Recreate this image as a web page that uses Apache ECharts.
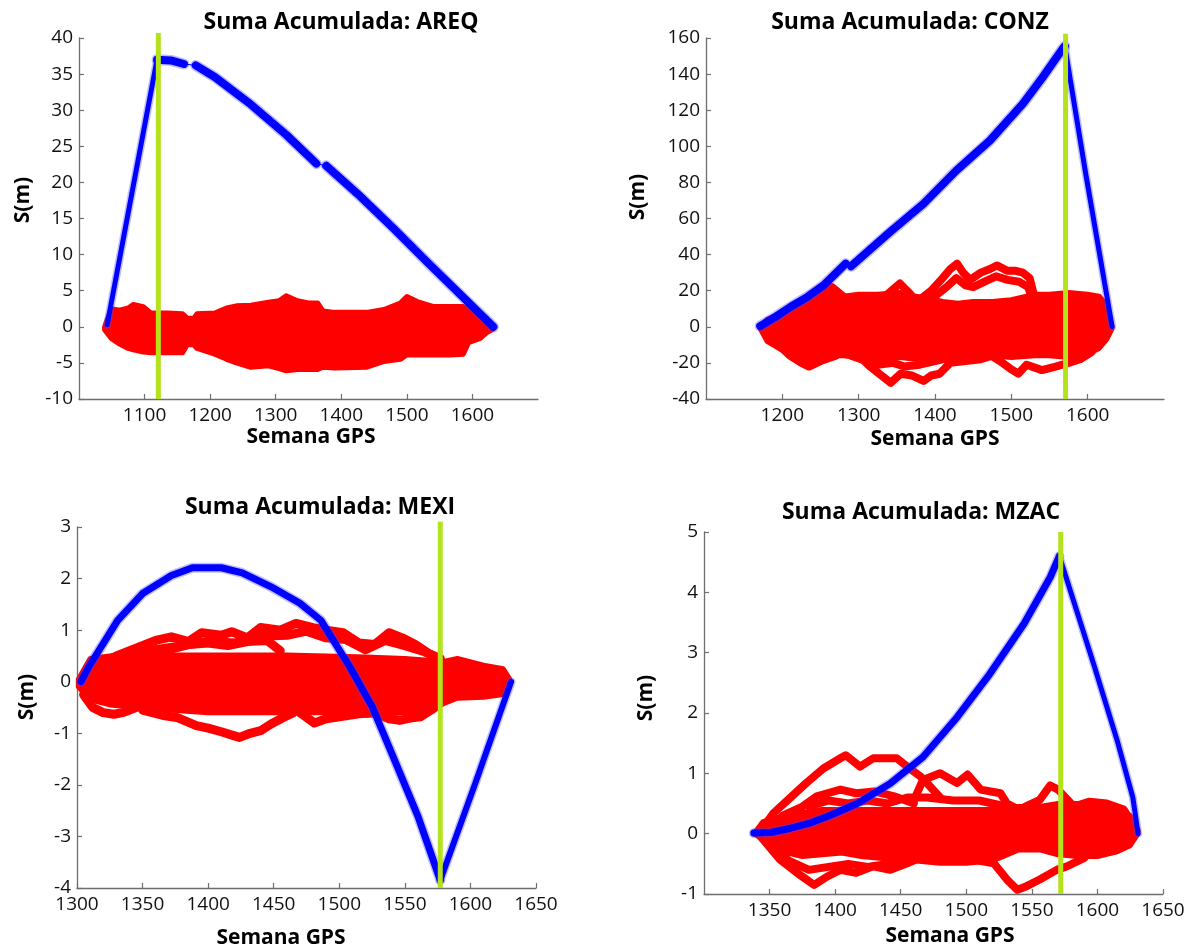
<!DOCTYPE html>
<html>
<head>
<meta charset="utf-8">
<script src="https://cdn.jsdelivr.net/npm/echarts@6/dist/echarts.min.js"></script>
<style>
html,body{margin:0;padding:0;background:#fff}
#chart{width:1196px;height:950px}
</style>
</head>
<body>
<div id="chart"></div>
<script>
// ---- AREQ ----
let areqX  = [1039, 1049, 1062, 1075, 1083, 1098, 1110, 1135, 1158, 1165, 1175, 1180, 1207, 1225, 1240, 1262, 1289, 1305, 1316, 1333, 1350, 1364, 1372, 1390, 1439, 1465, 1490, 1500, 1516, 1541, 1566, 1586, 1594, 1612, 1622, 1632];
let areqHi = [0, 2.5, 2.3, 2.6, 3.1, 2.8, 1.9, 1.9, 1.8, 1.2, 1.2, 1.8, 1.9, 2.6, 2.9, 3.0, 3.4, 3.6, 4.3, 3.6, 3.3, 3.3, 2.2, 2.0, 2.0, 2.4, 3.3, 4.2, 3.5, 2.8, 2.8, 2.8, 2.6, 1.5, 0.8, 0.1];
let areqLo = [-0.4, -1.6, -2.4, -3.0, -3.2, -3.5, -3.6, -3.6, -3.6, -2.5, -2.5, -3.0, -3.8, -4.5, -5.0, -5.6, -5.4, -5.8, -6.1, -5.9, -5.9, -5.9, -5.6, -5.7, -5.6, -4.8, -4.5, -3.9, -3.9, -3.9, -3.9, -3.8, -2.2, -1.6, -0.8, -0.3];
let areqFlankX = [1043, 1119];
let areqFlankY = [0.3, 37.0];
let areqBlueX = [1119, 1140, 1160, 1170, 1178, 1207, 1262, 1316, 1362, 1370, 1377, 1425, 1480, 1534, 1588, 1632];
let areqBlueY = [37.0, 36.9, 36.4, null, 36.2, 34.6, 30.8, 26.6, 22.6, null, 22.3, 18.4, 13.6, 8.7, 3.9, 0.0];
let areqGreen = 1121;

// ---- CONZ ----
let conzX  = [1171, 1180, 1200, 1215, 1233, 1250, 1265, 1280, 1300, 1325, 1354, 1375, 1390, 1410, 1430, 1450, 1475, 1500, 1530, 1550, 1575, 1600, 1615, 1625, 1632];
let conzHi = [0, 4, 8, 11, 15, 17, 18, 17, 18, 18, 19, 17, 16, 14, 13, 14, 14, 15, 18, 18, 19, 18, 17, 12, 0];
let conzLo = [-1, -8, -13, -16, -19, -17, -16, -16, -17, -18, -17, -18, -17, -16, -17, -16, -16, -17, -16, -16, -17, -15, -12, -7, -1];
let conzU1X = [1380, 1395, 1410, 1420, 1429, 1437, 1446, 1460, 1472, 1481, 1495, 1506, 1515, 1524, 1530];
let conzU1Y = [15, 20, 27, 32, 35, 30, 26, 30, 32, 34, 31, 31, 30, 27, 17];
let conzU2X = [1400, 1415, 1428, 1440, 1450, 1465, 1480, 1495, 1510, 1522, 1528];
let conzU2Y = [17, 22, 27, 23, 22, 25, 28, 26, 25, 22, 15];
let conzU3X = [1225, 1245, 1265, 1282];
let conzU3Y = [13, 17, 22, 16];
let conzU4X = [1335, 1354, 1368];
let conzU4Y = [17, 24, 18];
let conzL1X = [1195, 1210, 1225, 1235, 1250, 1270];
let conzL1Y = [-10, -16, -20, -22, -19, -16];
let conzL2X = [1300, 1315, 1330, 1342, 1355, 1370, 1385, 1395, 1406, 1420, 1440, 1460, 1475];
let conzL2Y = [-16, -22, -27, -31, -26, -27, -30, -27, -26, -20, -19, -18, -16];
let conzL3X = [1470, 1485, 1498, 1509, 1520, 1540, 1558, 1575, 1590, 1605];
let conzL3Y = [-15, -19, -23, -26, -21, -24, -22, -20, -18, -14];
let conzL4X = [1290, 1310, 1325, 1345, 1360, 1380, 1400, 1420];
let conzL4Y = [-16, -19, -21, -20, -22, -21, -19, -17];
let conzBlueX = [1171, 1191, 1211, 1233, 1254, 1283, 1286, 1290, 1341, 1385, 1428, 1472, 1515, 1541, 1567, 1570];
let conzBlueY = [0.4, 5.5, 11.1, 16.6, 23.0, 35.0, null, 33.5, 52.5, 68.2, 86.6, 103.2, 123.5, 138.2, 153.9, 155.5];
let conzFlankX = [1570, 1597, 1632];
let conzFlankY = [155.5, 86, 0.2];
let conzGreen = 1571;

// ---- MEXI ----
let mexiX  = [1301, 1310, 1325, 1345, 1370, 1400, 1430, 1460, 1490, 1520, 1550, 1565, 1577, 1590, 1610, 1625, 1630];
let mexiHi = [0.05, 0.45, 0.5, 0.5, 0.52, 0.52, 0.52, 0.52, 0.5, 0.48, 0.45, 0.42, 0.38, 0.45, 0.32, 0.25, 0.05];
let mexiLo = [-0.1, -0.35, -0.45, -0.5, -0.55, -0.6, -0.6, -0.6, -0.6, -0.65, -0.6, -0.55, -0.45, -0.32, -0.3, -0.25, -0.05];
let mexiU1X = [1315, 1330, 1345, 1360, 1372, 1385, 1395, 1410, 1418, 1430, 1440, 1455, 1467, 1480, 1490, 1503, 1515, 1527, 1538, 1548, 1558, 1568, 1577];
let mexiU1Y = [0.3, 0.5, 0.65, 0.8, 0.87, 0.78, 0.95, 0.9, 0.97, 0.85, 1.05, 1.0, 1.13, 1.05, 1.0, 0.95, 0.75, 0.72, 0.95, 0.85, 0.72, 0.55, 0.42];
let mexiU2X = [1325, 1340, 1355, 1370, 1385, 1400, 1415, 1430, 1445, 1455];
let mexiU2Y = [0.45, 0.55, 0.6, 0.62, 0.72, 0.75, 0.7, 0.78, 0.8, 0.6];
let mexiU3X = [1345, 1360, 1380, 1400, 1420, 1440, 1460, 1475, 1490, 1505, 1520, 1535, 1550, 1565, 1577];
let mexiU3Y = [0.5, 0.62, 0.7, 0.78, 0.75, 0.88, 0.9, 0.98, 0.85, 0.82, 0.62, 0.8, 0.7, 0.58, 0.45];
let mexiL1X = [1350, 1365, 1377, 1391, 1400, 1410, 1420, 1424, 1432, 1440, 1448, 1457, 1465];
let mexiL1Y = [-0.55, -0.65, -0.7, -0.85, -0.9, -0.97, -1.05, -1.08, -1.0, -0.95, -0.82, -0.7, -0.6];
let mexiL2X = [1470, 1481, 1490, 1500, 1515, 1527, 1538, 1546, 1555, 1562, 1570, 1577];
let mexiL2Y = [-0.6, -0.8, -0.72, -0.68, -0.62, -0.6, -0.72, -0.75, -0.7, -0.68, -0.55, -0.42];
let mexiL3X = [1305, 1312, 1320, 1328, 1335, 1345];
let mexiL3Y = [-0.25, -0.5, -0.6, -0.63, -0.6, -0.5];
let mexiBlueX = [1303, 1309, 1331, 1350, 1372, 1388, 1410, 1426, 1448, 1470, 1486, 1497, 1508, 1525, 1541, 1560, 1577];
let mexiBlueY = [0.0, 0.29, 1.19, 1.71, 2.06, 2.21, 2.21, 2.11, 1.84, 1.52, 1.19, 0.74, 0.29, -0.48, -1.45, -2.61, -3.85];
let mexiFlankX = [1577, 1604, 1631];
let mexiFlankY = [-3.85, -1.95, 0.0];
let mexiGreen = 1577;

// ---- MZAC ----
let mzacX  = [1338, 1345, 1360, 1375, 1390, 1405, 1420, 1440, 1460, 1480, 1500, 1520, 1540, 1556, 1570, 1585, 1600, 1615, 1625, 1631];
let mzacHi = [0, 0.2, 0.3, 0.35, 0.4, 0.4, 0.4, 0.4, 0.4, 0.4, 0.4, 0.4, 0.45, 0.45, 0.5, 0.5, 0.5, 0.45, 0.3, 0];
let mzacLo = [0, -0.1, -0.3, -0.38, -0.35, -0.32, -0.38, -0.42, -0.45, -0.49, -0.49, -0.45, -0.27, -0.27, -0.35, -0.38, -0.38, -0.3, -0.2, 0];
let mzacU1X = [1345, 1353, 1366, 1378, 1391, 1404, 1408, 1419, 1429, 1447, 1455, 1465, 1470, 1480];
let mzacU1Y = [0.1, 0.34, 0.6, 0.84, 1.08, 1.25, 1.3, 1.11, 1.25, 1.25, 1.11, 0.95, 0.84, 0.6];
let mzacU2X = [1360, 1375, 1386, 1404, 1416, 1430, 1445, 1460];
let mzacU2Y = [0.3, 0.45, 0.62, 0.73, 0.67, 0.7, 0.62, 0.5];
let mzacU3X = [1460, 1467, 1480, 1493, 1501, 1511, 1526, 1531, 1540];
let mzacU3Y = [0.55, 0.89, 1.0, 0.84, 0.98, 0.73, 0.67, 0.5, 0.4];
let mzacU4X = [1545, 1556, 1564, 1570, 1582, 1594, 1607, 1620, 1630];
let mzacU4Y = [0.45, 0.56, 0.8, 0.73, 0.45, 0.53, 0.5, 0.4, 0.05];
let mzacU5X = [1380, 1395, 1410, 1425, 1440, 1455, 1470, 1490, 1510, 1530];
let mzacU5Y = [0.45, 0.55, 0.5, 0.55, 0.5, 0.6, 0.6, 0.55, 0.55, 0.45];
let mzacL1X = [1343, 1358, 1371, 1384, 1394, 1404, 1416, 1429, 1442, 1455, 1467];
let mzacL1Y = [-0.04, -0.43, -0.65, -0.85, -0.71, -0.6, -0.65, -0.54, -0.6, -0.49, -0.38];
let mzacL2X = [1505, 1521, 1531, 1539, 1546, 1556, 1569, 1577, 1590];
let mzacL2Y = [-0.43, -0.49, -0.76, -0.93, -0.87, -0.76, -0.6, -0.54, -0.4];
let mzacL3X = [1350, 1365, 1380, 1395, 1410, 1425, 1440, 1455];
let mzacL3Y = [-0.2, -0.45, -0.6, -0.55, -0.5, -0.55, -0.5, -0.45];
let mzacBlueX = [1338, 1351, 1366, 1380, 1396, 1417, 1442, 1467, 1493, 1518, 1544, 1564, 1571];
let mzacBlueY = [0.01, 0.02, 0.09, 0.17, 0.30, 0.50, 0.83, 1.27, 1.93, 2.65, 3.48, 4.25, 4.6];
let mzacFlankX = [1571, 1598, 1615, 1627, 1631];
let mzacFlankY = [4.6, 2.75, 1.55, 0.6, 0.0];
let mzacGreen = 1572;

let titles = ['Suma Acumulada: AREQ', 'Suma Acumulada: CONZ', 'Suma Acumulada: MEXI', 'Suma Acumulada: MZAC'];

// layout of the four panels (pixels) and axis ranges
let panels = [
    {grid:{left:79, top:38, width:459, height:361}, x:[1000,1700,100], y:[-10,40,5], hideMinX:true, hideMaxX:true,
     title:[341,22], xlab:[311,437], ylab:[23,200], greenTop:40.7, blueW:8, traceW:8},
    {grid:{left:706, top:38, width:458, height:361}, x:[1100,1700,100], y:[-40,160,20], hideMinX:true, hideMaxX:true,
     title:[910,22], xlab:[935,439], ylab:[638,197], greenTop:162.4, blueW:8, traceW:8},
    {grid:{left:77, top:527, width:459, height:361}, x:[1300,1650,50], y:[-4,3,1], hideMinX:false, hideMaxX:false,
     title:[320,507], xlab:[281,938], ylab:[27,697], greenTop:3.1, blueW:7, traceW:9},
    {grid:{left:704, top:532, width:459, height:362}, x:[1300,1650,50], y:[-1,5,1], hideMinX:true, hideMaxX:false,
     title:[921,512], xlab:[950,936], ylab:[646,698], greenTop:5.0, blueW:7, traceW:8}
];
let flankW = 5;

let red = '#ff0000', blue = '#0000ff', green = '#b4e31c';
let font = '"Open Sans", "DejaVu Sans", sans-serif';

let pairs = function(xs, ys){
    return xs.map(function(x, i){ return [x, ys[i]]; });
};
let dropNulls = function(xs, ys){
    return pairs(xs, ys).filter(function(p){ return p[1] !== null; });
};

// solid core of the red band: one polygon, upper edge forward then lower edge back
let coreSeries = function(i, xs, lo, hi){
    return {type:'custom', xAxisIndex:i, yAxisIndex:i, silent:true, z:2,
        data:xs.map(function(x, k){ return [x, lo[k], hi[k]]; }),
        encode:{x:0, y:[1, 2]},
        renderItem:function(params, api){
            if (params.dataIndex !== 0) return null;
            let pts = [];
            for (let k = 0; k < xs.length; k++) pts.push(api.coord([xs[k], hi[k]]));
            for (let k = xs.length - 1; k >= 0; k--) pts.push(api.coord([xs[k], lo[k]]));
            return {type:'polygon', shape:{points:pts},
                style:{fill:red, stroke:red, lineWidth:5, lineJoin:'round'}};
        }};
};
let traceSeries = function(i, xs, ys){
    return {type:'line', xAxisIndex:i, yAxisIndex:i, data:pairs(xs, ys), showSymbol:false, silent:true, z:3,
        lineStyle:{color:red, width:panels[i].traceW, join:'round', cap:'round'}};
};
// blue cumulative sum: soft halo, thin connector through gaps, thick marker band
let blueSeries = function(i, xs, ys, w){
    return [
        {type:'line', xAxisIndex:i, yAxisIndex:i, data:pairs(xs, ys), showSymbol:false, silent:true, z:4,
         connectNulls:false, lineStyle:{color:'rgba(70,70,255,0.35)', width:w + 3, join:'round', cap:'round'}},
        {type:'line', xAxisIndex:i, yAxisIndex:i, data:dropNulls(xs, ys), showSymbol:false, silent:true, z:4,
         lineStyle:{color:blue, width:1}},
        {type:'line', xAxisIndex:i, yAxisIndex:i, data:pairs(xs, ys), showSymbol:false, silent:true, z:5,
         connectNulls:false, lineStyle:{color:blue, width:w, join:'round', cap:'round'}}
    ];
};
let greenSeries = function(i, gx){
    return {type:'line', xAxisIndex:i, yAxisIndex:i, data:[[gx, panels[i].y[0]], [gx, panels[i].greenTop]],
        showSymbol:false, silent:true, clip:false, z:6, lineStyle:{color:green, width:5}};
};

let series = [];
// AREQ
series.push(coreSeries(0, areqX, areqLo, areqHi));
series = series.concat(blueSeries(0, areqFlankX, areqFlankY, flankW));
series = series.concat(blueSeries(0, areqBlueX, areqBlueY, panels[0].blueW));
series.push(greenSeries(0, areqGreen));
// CONZ
series.push(coreSeries(1, conzX, conzLo, conzHi));
[[conzU1X, conzU1Y], [conzU2X, conzU2Y], [conzU3X, conzU3Y], [conzU4X, conzU4Y],
 [conzL1X, conzL1Y], [conzL2X, conzL2Y], [conzL3X, conzL3Y], [conzL4X, conzL4Y]].forEach(function(t){
    series.push(traceSeries(1, t[0], t[1]));
});
series = series.concat(blueSeries(1, conzBlueX, conzBlueY, panels[1].blueW));
series = series.concat(blueSeries(1, conzFlankX, conzFlankY, flankW));
series.push(greenSeries(1, conzGreen));
// MEXI
series.push(coreSeries(2, mexiX, mexiLo, mexiHi));
[[mexiU1X, mexiU1Y], [mexiU2X, mexiU2Y], [mexiU3X, mexiU3Y],
 [mexiL1X, mexiL1Y], [mexiL2X, mexiL2Y], [mexiL3X, mexiL3Y]].forEach(function(t){
    series.push(traceSeries(2, t[0], t[1]));
});
series = series.concat(blueSeries(2, mexiBlueX, mexiBlueY, panels[2].blueW));
series = series.concat(blueSeries(2, mexiFlankX, mexiFlankY, flankW + 1));
series.push(greenSeries(2, mexiGreen));
// MZAC
series.push(coreSeries(3, mzacX, mzacLo, mzacHi));
[[mzacU1X, mzacU1Y], [mzacU2X, mzacU2Y], [mzacU3X, mzacU3Y], [mzacU4X, mzacU4Y], [mzacU5X, mzacU5Y],
 [mzacL1X, mzacL1Y], [mzacL2X, mzacL2Y], [mzacL3X, mzacL3Y]].forEach(function(t){
    series.push(traceSeries(3, t[0], t[1]));
});
series = series.concat(blueSeries(3, mzacBlueX, mzacBlueY, panels[3].blueW));
series = series.concat(blueSeries(3, mzacFlankX, mzacFlankY, flankW));
series.push(greenSeries(3, mzacGreen));

let axisLine = {onZero:false, lineStyle:{color:'#6e6e6e', width:1.3}};
let axisTick = {inside:true, length:5, lineStyle:{color:'#6e6e6e', width:1.2}};
let plain = function(v){ return String(v); };

let xAxes = panels.map(function(p, i){
    return {type:'value', gridIndex:i, min:p.x[0], max:p.x[1], interval:p.x[2],
        axisLine:axisLine, axisTick:axisTick, splitLine:{show:false},
        axisLabel:{color:'#111', fontSize:19, fontFamily:font, margin:7, formatter:plain,
                   showMinLabel:!p.hideMinX, showMaxLabel:!p.hideMaxX}};
});
let yAxes = panels.map(function(p, i){
    return {type:'value', gridIndex:i, min:p.y[0], max:p.y[1], interval:p.y[2],
        axisLine:axisLine, axisTick:axisTick, splitLine:{show:false},
        axisLabel:{color:'#111', fontSize:19, fontFamily:font, margin:6, formatter:plain}};
});

let texts = [];
panels.forEach(function(p, i){
    texts.push({type:'text', x:p.title[0], y:p.title[1], silent:true,
        style:{text:titles[i], font:'bold 23px ' + font, fill:'#000', textAlign:'center', textVerticalAlign:'middle'}});
    texts.push({type:'text', x:p.xlab[0], y:p.xlab[1], silent:true,
        style:{text:'Semana GPS', font:'bold 21px ' + font, fill:'#000', textAlign:'center', textVerticalAlign:'middle'}});
    texts.push({type:'text', x:p.ylab[0], y:p.ylab[1], rotation:Math.PI / 2, silent:true,
        style:{text:'S(m)', font:'bold 21px ' + font, fill:'#000', textAlign:'center', textVerticalAlign:'middle'}});
});

let myChart = echarts.init(document.getElementById('chart'), null, {renderer:'canvas'});
myChart.setOption({
    animation:false,
    backgroundColor:'#fff',
    grid:panels.map(function(p){ return p.grid; }),
    xAxis:xAxes,
    yAxis:yAxes,
    series:series,
    graphic:texts
});
</script>
</body>
</html>
